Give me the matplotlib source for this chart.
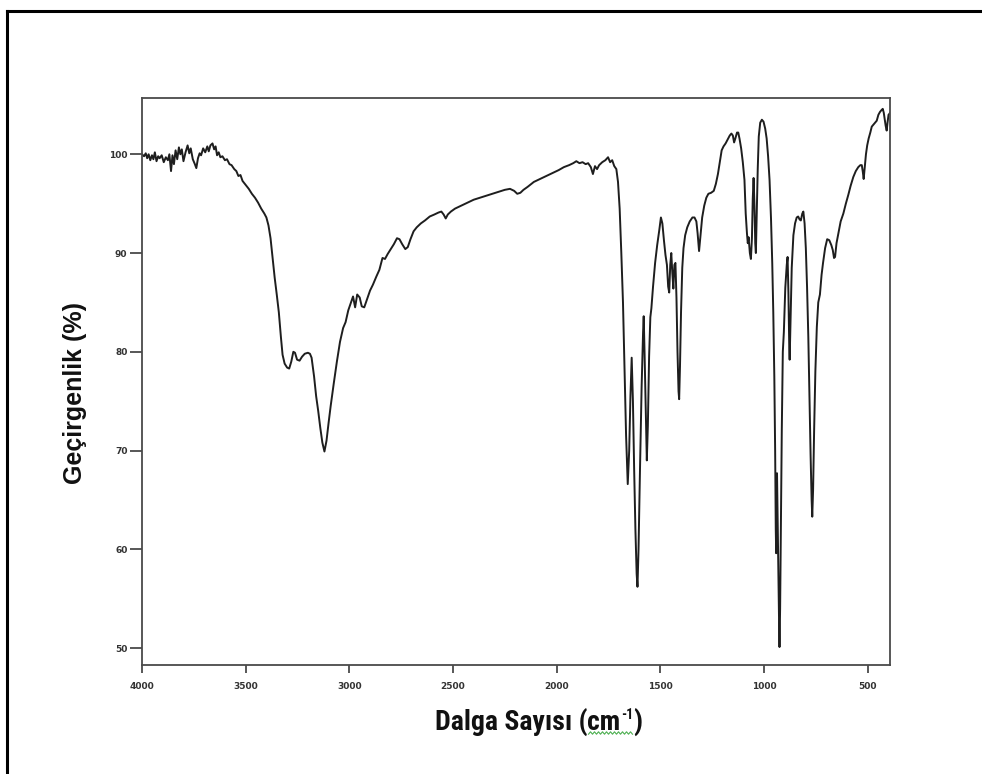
import matplotlib
matplotlib.use("Agg")
import matplotlib.pyplot as plt
from matplotlib.lines import Line2D
from matplotlib.transforms import offset_copy, IdentityTransform

# IR spectrum: wavenumber (cm-1) and transmittance (%)
wavenumber = [
    4000, 3990, 3982, 3975, 3968, 3960, 3952, 3945, 3938, 3930, 3922, 3915,
    3905, 3895, 3885, 3875, 3868, 3860, 3853, 3846, 3838, 3830, 3822, 3815,
    3808, 3800, 3790, 3780, 3772, 3765, 3755, 3745, 3738, 3730, 3722, 3715,
    3705, 3695, 3685, 3678, 3670, 3660, 3652, 3645, 3638, 3630, 3622, 3612,
    3600, 3590, 3578, 3568, 3555, 3545, 3535, 3525, 3515, 3500, 3485, 3470,
    3455, 3440, 3425, 3410, 3400, 3390, 3380, 3370, 3360, 3350, 3340, 3330,
    3322, 3312, 3300, 3290, 3280, 3270, 3262, 3252, 3240, 3228, 3215, 3200,
    3190, 3182, 3170, 3160, 3150, 3140, 3130, 3120, 3110, 3100, 3090, 3075,
    3060, 3045, 3030, 3018, 3005, 2992, 2982, 2972, 2962, 2950, 2940, 2928,
    2915, 2900, 2886, 2870, 2855, 2840, 2828, 2815, 2800, 2785, 2770, 2758,
    2745, 2730, 2718, 2705, 2690, 2675, 2655, 2635, 2612, 2590, 2570, 2556,
    2545, 2535, 2525, 2510, 2490, 2460, 2430, 2400, 2370, 2340, 2310, 2280,
    2250, 2225, 2205, 2190, 2175, 2160, 2140, 2110, 2080, 2050, 2020, 1990,
    1965, 1940, 1920, 1905, 1890, 1875, 1860, 1848, 1835, 1825, 1815, 1805,
    1795, 1780, 1765, 1752, 1742, 1732, 1722, 1712, 1704, 1696, 1688, 1680,
    1672, 1665, 1657, 1650, 1644, 1638, 1632, 1626, 1620, 1614, 1610, 1605,
    1598, 1590, 1583, 1580, 1576, 1570, 1565, 1560, 1554, 1548, 1543, 1535,
    1525, 1515, 1505, 1497, 1490, 1482, 1475, 1468, 1462, 1457, 1452, 1447,
    1442, 1437, 1432, 1427, 1422, 1417, 1412, 1409, 1405, 1400, 1394, 1388,
    1380, 1370, 1358, 1345, 1335, 1326, 1320, 1313, 1306, 1298, 1288, 1278,
    1268, 1255, 1242, 1232, 1222, 1212, 1204, 1195, 1185, 1175, 1165, 1157,
    1150, 1144, 1138, 1130, 1124, 1118, 1110, 1102, 1094, 1088, 1082, 1078,
    1074, 1068, 1063, 1058, 1054, 1050, 1046, 1042, 1039, 1035, 1030, 1025,
    1018, 1010, 1002, 994, 987, 980, 973, 966, 960, 955, 950, 946,
    943, 941, 939, 937, 934, 930, 927, 925, 922, 918, 914, 909,
    904, 897, 890, 886, 882, 878, 876, 872, 866, 858, 850, 842,
    835, 828, 822, 815, 810, 804, 798, 792, 786, 780, 775, 770,
    767, 763, 758, 752, 745, 738, 730, 722, 715, 705, 695, 685,
    675, 668, 662, 657, 650, 641, 630, 617, 605, 593, 582, 569,
    557, 545, 535, 528, 523, 519, 514, 508, 502, 495, 487, 480,
    472, 464, 456, 448, 440, 432, 427, 422, 418, 413, 408, 404,
    399, 395, 392,
]

transmittance = [
    100.0, 99.8, 100.1, 99.6, 100.0, 99.4, 99.9, 99.5, 100.2, 99.3, 99.8, 99.6,
    99.9, 99.2, 99.7, 99.4, 100.0, 98.3, 99.9, 99.0, 100.4, 99.5, 100.7, 100.0,
    100.5, 99.3, 100.2, 100.9, 100.1, 100.6, 99.5, 99.0, 98.6, 99.6, 100.1, 99.9,
    100.6, 100.2, 100.8, 100.3, 100.9, 101.1, 100.5, 100.8, 99.9, 100.2, 99.7, 99.8,
    99.4, 99.5, 99.0, 98.9, 98.5, 98.3, 97.8, 97.9, 97.3, 96.9, 96.5, 96.0,
    95.6, 95.1, 94.5, 94.0, 93.6, 92.8, 91.5, 89.5, 87.5, 85.8, 84.0, 81.5,
    79.7, 78.8, 78.4, 78.3, 79.0, 80.0, 79.9, 79.2, 79.1, 79.5, 79.8, 79.9,
    79.8, 79.4, 77.5, 75.5, 74.0, 72.3, 70.8, 69.9, 71.0, 72.8, 74.5, 76.8,
    79.0, 81.0, 82.4, 83.0, 84.2, 85.0, 85.6, 84.5, 85.8, 85.5, 84.6, 84.5,
    85.3, 86.2, 86.8, 87.6, 88.3, 89.5, 89.4, 89.9, 90.4, 90.9, 91.5, 91.4,
    90.9, 90.4, 90.6, 91.4, 92.2, 92.6, 93.0, 93.3, 93.7, 93.9, 94.1, 94.2,
    93.9, 93.5, 93.9, 94.2, 94.5, 94.8, 95.1, 95.4, 95.6, 95.8, 96.0, 96.2,
    96.4, 96.5, 96.3, 96.0, 96.1, 96.4, 96.7, 97.2, 97.5, 97.8, 98.1, 98.4,
    98.7, 98.9, 99.1, 99.3, 99.1, 99.2, 99.0, 99.1, 98.7, 98.0, 98.8, 98.5,
    98.9, 99.2, 99.4, 99.7, 99.2, 99.4, 98.8, 98.5, 97.2, 94.5, 90.0, 85.0,
    78.0, 71.5, 66.6, 70.0, 75.5, 79.4, 75.0, 68.0, 62.0, 57.5, 56.2, 60.0,
    68.0, 76.5, 82.0, 83.6, 80.0, 74.0, 69.0, 72.5, 79.5, 83.5, 84.4, 86.6,
    89.0, 90.8, 92.3, 93.6, 93.0, 91.2, 89.8, 88.8, 86.6, 86.0, 88.8, 90.0,
    88.0, 86.4, 88.8, 89.0, 85.5, 80.0, 76.0, 75.2, 78.5, 84.0, 88.5, 90.5,
    91.8, 92.6, 93.2, 93.6, 93.6, 93.2, 92.0, 90.2, 91.8, 93.6, 94.8, 95.6,
    96.0, 96.1, 96.3, 97.0, 98.0, 99.3, 100.4, 100.8, 101.1, 101.5, 101.9, 102.1,
    101.9, 101.2, 101.6, 102.2, 102.2, 101.6, 100.6, 99.2, 97.4, 94.0, 92.0, 91.0,
    91.6, 90.0, 89.4, 91.5, 95.5, 97.6, 95.0, 91.0, 90.0, 94.0, 98.5, 101.8,
    103.2, 103.5, 103.3, 102.6, 101.6, 99.8, 97.4, 93.5, 89.0, 84.0, 77.5, 70.0,
    62.0, 59.6, 64.0, 67.7, 63.0, 57.0, 52.5, 50.1, 54.0, 63.0, 72.0, 80.0,
    82.0, 86.5, 88.8, 89.6, 86.0, 80.5, 79.2, 83.0, 88.5, 91.8, 93.0, 93.6,
    93.7, 93.4, 93.3, 94.0, 94.2, 93.0, 90.5, 86.5, 81.5, 75.0, 69.5, 65.0,
    63.3, 66.0, 72.0, 78.0, 82.5, 85.0, 85.8, 87.8, 89.0, 90.5, 91.4, 91.3,
    90.8, 90.3, 89.5, 89.6, 91.0, 92.0, 93.2, 94.0, 95.0, 95.9, 96.8, 97.7,
    98.3, 98.7, 98.9, 98.9, 98.2, 97.5, 98.6, 100.0, 100.9, 101.6, 102.2, 102.8,
    103.0, 103.2, 103.4, 104.0, 104.3, 104.5, 104.6, 104.2, 103.6, 102.9, 102.4, 103.2,
    104.0, 104.1, 104.2,
]

x_ticks = [4000, 3500, 3000, 2500, 2000, 1500, 1000, 500]
y_ticks = [50, 60, 70, 80, 90, 100]

x_label_main = "Dalga Sayısı ("
x_label_unit = "cm"
x_label_sup = "-1"
x_label_end = ")"
y_label = "Geçirgenlik (%)"

plt.rcParams["font.family"] = ["Liberation Sans", "DejaVu Sans"]

fig = plt.figure(figsize=(9.82, 7.74), dpi=100)
W, H = 982, 774
ax = fig.add_axes([142 / W, 1 - 665 / H, (890 - 142) / W, (665 - 98) / H])

ax.plot(wavenumber, transmittance, color="#1e1e1e", lw=1.4)

ax.set_xlim(4000, 392)
ax.set_ylim(48.28, 105.7)
ax.set_xticks(x_ticks)
ax.set_xticklabels([str(t) for t in x_ticks])
ax.set_yticks(y_ticks)
ax.set_yticklabels([str(t) for t in y_ticks])

for s in ax.spines.values():
    s.set_color("#4a4a4a")
    s.set_linewidth(1.3)

ax.tick_params(axis="x", direction="out", length=6, width=1.3, color="#4a4a4a",
               pad=6, labelsize=6.5)
ax.tick_params(axis="y", direction="out", length=9, width=1.3, color="#4a4a4a",
               pad=1.5, labelsize=6.5)
for lab in ax.get_xticklabels() + ax.get_yticklabels():
    lab.set_family("DejaVu Sans")
    lab.set_fontweight("bold")
    lab.set_color("#333333")

# x-axis title with a small raised exponent, laid out piece by piece
label_family = ["Roboto Condensed", "Liberation Sans Narrow", "Liberation Sans", "DejaVu Sans"]
label_size = 20
renderer = fig.canvas.get_renderer()
pieces = [
    (x_label_main, label_size, 0),
    (x_label_unit, label_size, 0),
    (x_label_sup, label_size * 0.5, 11),
    (x_label_end, label_size, 0),
]
texts = []
widths = []
for s, size, _ in pieces:
    t = fig.text(0, 0, s, family=label_family, fontweight="bold",
                 fontsize=size, color="#111111", va="baseline")
    texts.append(t)
    widths.append(t.get_window_extent(renderer).width)
total = sum(widths)
x = 538.5 - total / 2
base_y = H - 730
starts = []
for t, w, (_, _, rise) in zip(texts, widths, pieces):
    starts.append(x)
    t.set_transform(offset_copy(fig.transFigure, fig=fig, x=x, y=base_y + rise, units="dots"))
    x += w

# wavy proofing underline beneath the unit
wx0 = starts[1] + 1
wx1 = starts[2] + widths[2]
wave_x = []
wave_y = []
step = 2.0
k = 0
xx = wx0
while xx <= wx1:
    wave_x.append(xx)
    wave_y.append(H - 733 + (1.2 if k % 2 else -1.2))
    xx += step
    k += 1
fig.add_artist(Line2D(wave_x, wave_y, color="#4caf50", lw=0.8,
                      transform=IdentityTransform()))

fig.text(75 / W, 1 - 393 / H, y_label, ha="center", va="center", rotation=90,
         family=["Liberation Sans", "DejaVu Sans"], fontweight="bold",
         fontsize=18, color="#111111")

# page frame along the top and left edges
fig.add_artist(Line2D([7 / W, 1.0], [1 - 11 / H, 1 - 11 / H], color="black",
                      lw=2.2, transform=fig.transFigure))
fig.add_artist(Line2D([7 / W, 7 / W], [1 - 11 / H, 0.0], color="black",
                      lw=2.2, transform=fig.transFigure))

fig.savefig("out.png", dpi=100, facecolor="white")
